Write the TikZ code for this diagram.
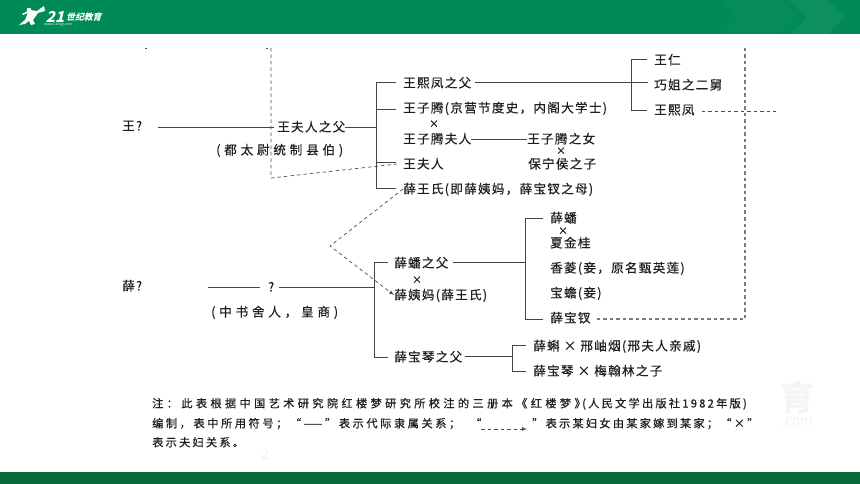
\documentclass[tikz,border=0pt]{standalone}
\usepackage{fontspec}
\setmainfont{Noto Sans CJK SC}
\newfontfamily\chartfont[LetterSpace=10,FakeBold=0.35]{Noto Sans CJK SC}
\newfontfamily\widefont[LetterSpace=30,FakeBold=0.35]{Noto Sans CJK SC}
\newfontfamily\notefont[LetterSpace=20,FakeBold=0.6]{Noto Sans CJK SC}
\newfontfamily\notemidfont[LetterSpace=23,FakeBold=0.6]{Noto Sans CJK SC}
\newfontfamily\notewidefont[LetterSpace=30,FakeBold=0.6]{Noto Sans CJK SC}
\newfontfamily\logofont[FakeSlant=0.25]{Noto Sans CJK SC}
\newlength{\du}
\setlength{\du}{1pt}
\definecolor{headgreen}{rgb}{0.000000, 0.541000, 0.337000}
\definecolor{footgreen}{rgb}{0.039000, 0.420000, 0.227000}
\definecolor{inkcolor}{rgb}{0.120000, 0.120000, 0.120000}
\definecolor{linecolor}{rgb}{0.270000, 0.270000, 0.270000}
\definecolor{dashcolor}{rgb}{0.300000, 0.300000, 0.300000}
\definecolor{farcolor}{rgb}{0.480000, 0.480000, 0.480000}
\tikzset{
  person/.style={anchor=west,inner sep=0pt,text height=11pt,text depth=2pt,text=inkcolor,font=\chartfont\fontsize{12.6}{14}\selectfont},
  title/.style={person,font=\widefont\fontsize{12.6}{14}\selectfont},
  marry/.style={inner sep=0pt,text=inkcolor,font=\chartfont\fontsize{10}{12}\selectfont},
  noteline/.style={person,font=\notefont\fontsize{11.2}{13}\selectfont},
  notemid/.style={person,font=\notemidfont\fontsize{11.2}{13}\selectfont},
  notewide/.style={person,font=\notewidefont\fontsize{11.2}{13}\selectfont},
  treeline/.style={draw=linecolor,line width=0.9pt},
  marryout/.style={draw=dashcolor,line width=0.7pt,dash pattern=on 3.5pt off 3pt},
  farline/.style={draw=farcolor,line width=1.2pt,dash pattern=on 3.5pt off 3pt},
}
\begin{document}
\begin{tikzpicture}
\pgftransformxscale{1.000000}
\pgftransformyscale{-1.000000}
\useasboundingbox (0\du,0\du) rectangle (860\du,484\du);
% header and footer bands
\fill[headgreen] (0\du,0\du) rectangle (860\du,34\du);
\fill[white,opacity=0.025] (720\du,0\du) -- (780\du,0\du) -- (797\du,17\du) -- (780\du,34\du) -- (720\du,34\du) -- (737\du,17\du) -- cycle;
\fill[white,opacity=0.05] (790\du,0\du) -- (828\du,0\du) -- (845\du,17\du) -- (828\du,34\du) -- (790\du,34\du) -- (807\du,17\du) -- cycle;
\fill[footgreen] (0\du,472\du) rectangle (860\du,484\du);
% logo
\fill[white] (29\du,10\du) circle (2.3\du);
\fill[white] (44\du,6\du) -- (45\du,11\du) -- (38\du,13\du) -- (33\du,20\du) -- (35\du,24\du) -- (31\du,25\du) -- (29\du,21\du) -- (25\du,24\du) -- (19\du,25\du) -- (25\du,20\du) -- (28\du,13\du) -- (23\du,15\du) -- (22\du,14\du) -- (30\du,10\du) -- (37\du,11\du) -- cycle;
\node[inner sep=0pt,text=white,font=\logofont\bfseries\fontsize{15}{15}\selectfont] (logonum) at (55\du,17\du){21};
\node[anchor=west,inner sep=0pt,text=white,font=\logofont\bfseries\fontsize{8.8}{10}\selectfont] (logoname) at (66\du,17\du){世纪教育};
\node[anchor=west,inner sep=0pt,text=white,font=\fontsize{3.5}{4}\selectfont] (logourl) at (44\du,25\du){www.21cnjy.com};
% watermark
\node[inner sep=0pt,text=black!4,font=\bfseries\fontsize{34}{34}\selectfont] (markedu) at (797\du,397\du){育};
\node[inner sep=0pt,text=black!5,font=\fontsize{14}{14}\selectfont] (markcom) at (797\du,422\du){.com};
\node[inner sep=0pt,text=black!6,font=\fontsize{14}{14}\selectfont] (markpage) at (265\du,454\du){2};
% Wang family
\node[person] (wangroot) at (122\du,126\du){王?};
\node[person] (wangfather) at (277\du,127\du){王夫人之父};
\node[title] (wangtitle) at (216\du,150\du){(都太尉统制县伯)};
\node[person] (xifather) at (403\du,83\du){王熙凤之父};
\node[person] (ziteng) at (403\du,108\du){王子腾(京营节度史，内阁大学士)};
\node[marry] (zitengx) at (434\du,124\du){×};
\node[person] (zitengwife) at (403\du,139\du){王子腾夫人};
\node[person] (lady) at (403\du,164\du){王夫人};
\node[person] (xuewang) at (403\du,189\du){薛王氏(即薛姨妈，薛宝钗之母)};
\node[person] (zitengdau) at (527\du,139\du){王子腾之女};
\node[marry] (daux) at (561\du,151\du){×};
\node[person] (baoning) at (528\du,164\du){保宁侯之子};
\node[person] (wangren) at (654\du,60\du){王仁};
\node[person] (uncle) at (654\du,85\du){巧姐之二舅};
\node[person] (xifeng) at (654\du,110\du){王熙凤};
% Xue family
\node[person] (xueroot) at (122\du,286\du){薛?};
\node[person] (xueq) at (268\du,287\du){?};
\node[title] (xuetitle) at (211\du,312\du){(中书舍人，皇商)};
\node[person] (panfather) at (394\du,263\du){薛蟠之父};
\node[marry] (panx) at (417\du,280\du){×};
\node[person] (auntxue) at (394\du,295\du){薛姨妈(薛王氏)};
\node[person] (qinfather) at (394\du,357\du){薛宝琴之父};
\node[person] (xuepan) at (550\du,218\du){薛蟠};
\node[marry] (xuepanx) at (563\du,231\du){×};
\node[person] (xiajingui) at (550\du,243\du){夏金桂};
\node[person] (xiangling) at (550\du,268\du){香菱(妾，原名甄英莲)};
\node[person] (baochan) at (550\du,293\du){宝蟾(妾)};
\node[person] (baochai) at (550\du,318\du){薛宝钗};
\node[person] (xueke) at (533\du,346\du){薛蝌 × 邢岫烟(邢夫人亲戚)};
\node[person] (baoqin) at (533\du,371\du){薛宝琴 × 梅翰林之子};
% note
\node[notewide] (notea) at (152\du,403\du){注：此表根据中国艺术研究院红楼梦研究所校注的三册本《红楼梦》};
\node[noteline] (notee) at (582\du,403\du){(人民文学出版社1982年版)};
\node[notemid] (noteb) at (152\du,423\du){编制，表中所用符号；“——”表示代际隶属关系；};
\node[noteline] (notef) at (470\du,423\du){“};
\node[noteline] (notec) at (532\du,423\du){”表示某妇女由某家嫁到某家；“×”};
\node[noteline] (noted) at (152\du,442\du){表示夫妇关系。};
\coordinate (samplea) at (481\du,429\du);
\coordinate (sampleb) at (527\du,429\du);
% junctions
\coordinate (wangtop) at (376\du,82\du);
\coordinate (wangmid) at (376\du,127\du);
\coordinate (wangb) at (376\du,109\du);
\coordinate (wangc) at (376\du,162\du);
\coordinate (wangbot) at (376\du,188\du);
\coordinate (xitop) at (631\du,59\du);
\coordinate (xibot) at (631\du,110\du);
\coordinate (xiend) at (648\du,82\du);
\coordinate (xuetop) at (374\du,262\du);
\coordinate (xuemid) at (374\du,287\du);
\coordinate (xuebot) at (374\du,357\du);
\coordinate (pantop) at (525\du,218\du);
\coordinate (panmid) at (525\du,262\du);
\coordinate (panbot) at (525\du,319\du);
\coordinate (qintop) at (512\du,345\du);
\coordinate (qinmid) at (512\du,356\du);
\coordinate (qinbot) at (512\du,371\du);
\coordinate (farcorner) at (745\du,319\du);
\coordinate (fartop) at (745\du,48\du);
\coordinate (farend) at (776\du,111\du);
\coordinate (leftop) at (271\du,48\du);
\coordinate (lefcorner) at (271\du,178\du);
\coordinate (xuecorner) at (330\du,246\du);
\coordinate (wangtail) at (158\du,127\du);
\coordinate (xuetail) at (208\du,287\du);
% solid lines
\draw[treeline,shorten >=3\du] (wangtail) -- (wangfather.west);
\draw[treeline] (wangfather.east) -- (wangmid);
\draw[treeline] (wangtop) -- (wangbot);
\draw[treeline,shorten >=7\du] (wangtop) -- (wangtop -| xifather.west);
\draw[treeline,shorten >=7\du] (wangb) -- (wangb -| ziteng.west);
\draw[treeline,shorten >=7\du] (wangc) -- (wangc -| lady.west);
\draw[treeline,shorten >=7\du] (wangbot) -- (wangbot -| xuewang.west);
\draw[treeline] (zitengwife.east) -- (zitengdau.west);
\draw[treeline,shorten <=4\du] (xifather.east |- xiend) -- (xiend);
\draw[treeline] (xitop) -- (xibot);
\draw[treeline,shorten >=7\du] (xitop) -- (xitop -| wangren.west);
\draw[treeline,shorten >=7\du] (xibot) -- (xibot -| xifeng.west);
\draw[treeline,shorten >=8\du] (xuetail) -- (xueq.west);
\draw[treeline,shorten <=5\du] (xueq.east) -- (xuemid);
\draw[treeline] (xuetop) -- (xuebot);
\draw[treeline,shorten >=6\du] (xuetop) -- (xuetop -| panfather.west);
\draw[treeline,shorten >=6\du] (xuebot) -- (xuebot -| qinfather.west);
\draw[treeline,shorten <=4\du] (panfather.east |- panmid) -- (panmid);
\draw[treeline] (pantop) -- (panbot);
\draw[treeline,shorten >=7\du] (pantop) -- (pantop -| xuepan.west);
\draw[treeline,shorten >=7\du] (panbot) -- (panbot -| baochai.west);
\draw[treeline,shorten <=3\du] (qinfather.east |- qinmid) -- (qinmid);
\draw[treeline] (qintop) -- (qinbot);
\draw[treeline,shorten >=7\du] (qintop) -- (qintop -| xueke.west);
\draw[treeline,shorten >=7\du] (qinbot) -- (qinbot -| baoqin.west);
% dashed lines
\draw[farline,shorten >=6\du] (fartop) -- (farcorner) -- (baochai.east |- farcorner);
\draw[marryout,shorten <=7\du] (xifeng.east |- farend) -- (farend);
\draw[marryout] (leftop) -- (lefcorner) -- ([xshift=-6\du]lady.west);
\draw[marryout,-latex] (xuewang.west) -- (xuecorner) -- (auntxue.west);
\draw[marryout,-latex] (samplea) -- (sampleb);
% stray marks at the top edge
\draw[dashcolor,line width=0.6pt] (145\du,48\du) -- (147\du,48\du);
\draw[dashcolor,line width=0.6pt] (266\du,48\du) -- (268\du,48\du);
\end{tikzpicture}
\end{document}
